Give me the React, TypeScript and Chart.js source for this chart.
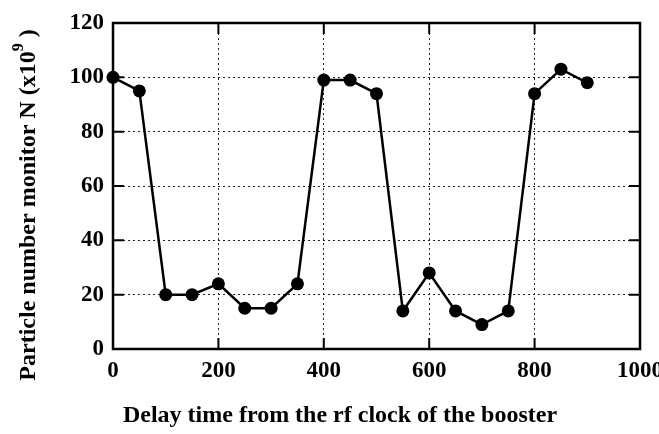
import { useEffect, useRef } from "react";
import { Chart, registerables } from "chart.js";

Chart.register(...registerables);

const delayTimes = [0, 50, 100, 150, 200, 250, 300, 350, 400, 450, 500, 550, 600, 650, 700, 750, 800, 850, 900];
const particleN = [100, 95, 20, 20, 24, 15, 15, 24, 99, 99, 94, 14, 28, 14, 9, 14, 94, 103, 98];
const xTitle = "Delay time from the rf clock of the booster";
const yTitleMain = "Particle number monitor N (x10";
const yTitleSup = "9";
const yTitleEnd = " )";

const FONT = '"Liberation Serif", "Times New Roman", serif';

const framePlugin = {
  id: "frame",
  beforeDatasetsDraw(chart: any) {
    const { ctx, chartArea: a, scales } = chart;
    const xs = scales.x;
    const ys = scales.y;
    ctx.save();
    ctx.strokeStyle = "#000";
    ctx.lineWidth = 2;
    const tl = 11;
    xs.ticks.forEach((t: any) => {
      const px = xs.getPixelForValue(t.value);
      if (t.value <= 0 || t.value >= 1000) return;
      ctx.beginPath();
      ctx.moveTo(px, a.bottom);
      ctx.lineTo(px, a.bottom - tl);
      ctx.moveTo(px, a.top);
      ctx.lineTo(px, a.top + tl);
      ctx.stroke();
    });
    ys.ticks.forEach((t: any) => {
      const py = ys.getPixelForValue(t.value);
      if (t.value <= 0 || t.value >= 120) return;
      ctx.beginPath();
      ctx.moveTo(a.left, py);
      ctx.lineTo(a.left + tl, py);
      ctx.moveTo(a.right, py);
      ctx.lineTo(a.right - tl, py);
      ctx.stroke();
    });
    ctx.lineWidth = 2.5;
    ctx.strokeRect(a.left, a.top, a.right - a.left, a.bottom - a.top);
    ctx.restore();
  },
  afterDraw(chart: any) {
    const { ctx } = chart;
    ctx.save();
    ctx.fillStyle = "#000";
    ctx.font = `bold 24px ${FONT}`;
    ctx.textAlign = "center";
    ctx.textBaseline = "middle";
    ctx.fillText(xTitle, 340, 416);

    ctx.translate(27, 205);
    ctx.rotate(-Math.PI / 2);
    ctx.textAlign = "left";
    ctx.font = `bold 24px ${FONT}`;
    const w1 = ctx.measureText(yTitleMain).width;
    const w3 = ctx.measureText(yTitleEnd).width;
    ctx.font = `bold 16px ${FONT}`;
    const w2 = ctx.measureText(yTitleSup).width;
    const total = w1 + w2 + w3;
    let x0 = -total / 2;
    ctx.font = `bold 24px ${FONT}`;
    ctx.fillText(yTitleMain, x0, 2);
    x0 += w1;
    ctx.font = `bold 16px ${FONT}`;
    ctx.fillText(yTitleSup, x0, -8);
    x0 += w2;
    ctx.font = `bold 24px ${FONT}`;
    ctx.fillText(yTitleEnd, x0, 2);
    ctx.restore();
  },
};

export default function App() {
  const ref = useRef<HTMLCanvasElement | null>(null);

  useEffect(() => {
    if (!ref.current) return;
    const chart = new Chart(ref.current, {
      type: "line",
      data: {
        datasets: [
          {
            data: delayTimes.map((x, i) => ({ x, y: particleN[i] })),
            borderColor: "#000",
            backgroundColor: "#000",
            borderWidth: 2.5,
            pointRadius: 6.5,
            pointBackgroundColor: "#000",
            pointBorderColor: "#000",
            pointBorderWidth: 0,
            tension: 0,
            clip: false,
          },
        ],
      },
      options: {
        responsive: false,
        animation: false,
        layout: { padding: { top: 23, right: 19, left: 0, bottom: 0 } },
        plugins: { legend: { display: false }, tooltip: { enabled: false } },
        scales: {
          x: {
            type: "linear",
            min: 0,
            max: 1000,
            afterFit(scale: any) {
              scale.height = 85;
              scale.paddingLeft = 0;
              scale.paddingRight = 0;
            },
            ticks: {
              stepSize: 200,
              color: "#000",
              padding: 8,
              maxRotation: 0,
              callback: (v: any) => String(v),
              font: { family: FONT, size: 23, weight: "bold" },
            },
            grid: { color: "#222", lineWidth: 1, drawTicks: false },
            border: { display: false, dash: [2, 3] },
          },
          y: {
            min: 0,
            max: 120,
            afterFit(scale: any) {
              scale.width = 113;
              scale.paddingTop = 0;
              scale.paddingBottom = 0;
            },
            ticks: {
              stepSize: 20,
              color: "#000",
              padding: 9,
              callback: (v: any) => String(v),
              font: { family: FONT, size: 23, weight: "bold" },
            },
            grid: { color: "#222", lineWidth: 1, drawTicks: false },
            border: { display: false, dash: [2, 3] },
          },
        },
      },
      plugins: [framePlugin],
    });
    return () => chart.destroy();
  }, []);

  return (
    <div style={{ position: "fixed", left: 0, top: 0, width: 659, height: 434, background: "#fff" }}>
      <canvas ref={ref} width={659} height={434} style={{ display: "block" }} />
    </div>
  );
}
